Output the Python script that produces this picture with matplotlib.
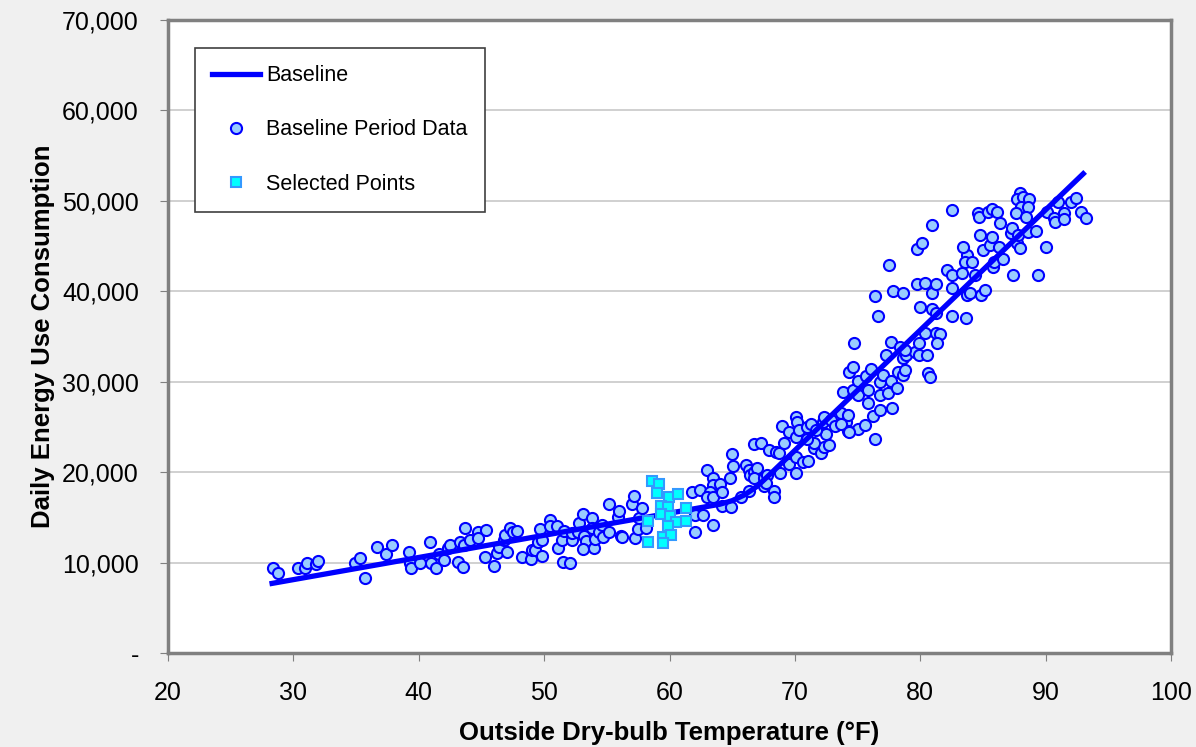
import numpy as np
import matplotlib
matplotlib.use("Agg")
import matplotlib.pyplot as plt
from matplotlib.ticker import FuncFormatter

plt.rcParams['font.family'] = ['Liberation Sans', 'DejaVu Sans']

# baseline period data (temperature F, daily energy use)
base_temp = [
	28.4, 28.75, 30.4, 30.9, 31.1, 31.8, 32.0, 34.9, 35.3, 35.7, 36.7, 37.4, 37.9, 39.2, 39.3, 39.4,
	40.1, 40.9, 41.0, 41.4, 41.6, 42.0, 42.35, 42.5, 43.15, 43.3, 43.55, 43.7,
	43.6, 44.1, 44.7, 44.7, 45.4, 45.3, 46.0, 46.2, 46.4, 46.8, 46.9, 47.0, 47.3, 47.5, 47.8, 48.2,
	48.95, 49.0, 49.3, 49.7, 49.5, 49.85, 49.8, 50.5, 50.5, 51.0, 51.1, 51.4, 51.6, 51.5, 52.1, 52.2,
	52.25, 52.7, 52.8, 53.1, 53.2, 53.3, 53.1, 53.8, 53.85, 54.0, 54.05, 54.4, 54.6, 54.7, 55.2, 55.2,
	55.9, 56.0, 56.1, 56.2, 57.0, 57.2, 57.25, 57.5, 57.6, 57.8, 58.1,
	63.0, 63.5, 63.5, 61.8, 62.4, 63.2, 63.0, 63.5, 62.0, 62.7, 63.5, 62.0,
	64.0, 64.15, 64.8, 65.0, 65.1, 64.2, 64.9, 65.7, 66.1, 66.3, 66.4, 66.7, 66.95, 66.7, 66.3, 66.7,
	67.3, 67.9, 67.5, 67.5, 67.8, 67.7, 68.3, 68.3, 68.5, 68.7, 69.1, 68.85, 69.5, 70.1, 70.1, 69.0,
	69.55, 70.1, 70.2, 70.1,
	76.4, 70.65, 71.05, 71.5, 72.1, 72.3, 72.7, 72.5, 71.5, 71.0, 70.3, 71.0, 71.3, 71.7, 72.25, 72.3,
	72.9, 73.2, 73.7, 74.1, 74.25, 74.2, 75.05, 75.6, 73.85, 74.65, 74.3, 74.65, 75.0, 75.05, 75.7, 75.8,
	75.85, 76.1, 76.2, 76.8, 76.8, 76.8, 77.05, 77.45, 77.7, 77.75, 78.15, 78.25, 78.6, 78.8, 77.3, 77.7,
	78.4, 78.6, 78.9, 79.6, 79.9, 80.5, 79.9, 80.4, 81.25, 81.6, 81.35, 80.6, 80.75, 74.7, 76.4, 76.6,
	77.5, 77.85, 78.6, 80.0, 80.9, 81.25, 79.7, 80.4, 80.9, 81.25, 82.55, 83.65, 82.55, 82.1, 82.5, 83.3,
	83.75, 84.0, 84.35, 84.85, 85.15, 83.75, 83.55, 84.1, 83.4, 85.8, 85.9, 86.6, 87.4, 89.4, 90.0, 85.0,
	85.55, 86.3, 87.75, 87.95, 79.75, 80.1, 78.8, 73.7, 74.3,
	82.55, 80.9, 84.6, 84.7, 85.4, 85.7, 86.1, 86.35, 84.75, 85.75, 87.25, 87.35, 87.8, 87.95, 87.75, 88.2,
	88.7, 88.0, 88.6, 87.6, 88.4, 88.6, 89.2, 90.1, 90.65, 90.75, 91.5, 91.5, 91.0, 92.0, 92.4, 92.85, 93.2,
]
base_kwh = [
	9370, 8810, 9370, 9370, 9920, 9840, 10210, 9990, 10540, 8330, 11690, 10950, 11980, 11140, 9920, 9440,
	9920, 12310, 9990, 9440, 10950, 10290, 11580, 11940, 10060, 12310, 9550, 13790,
	11940, 12500, 13420, 12680, 13600, 10650, 9620, 11090, 11760, 12500, 13050, 11200, 13790, 13420, 13530, 10580,
	10430, 11390, 11390, 13680, 12310, 12500, 10760, 14710, 14050, 14050, 11650, 12500, 13530, 10100, 9920, 12500,
	13310, 13420, 14410, 15340, 12940, 12420, 11500, 14900, 13790, 11580, 12570, 13420, 14160, 12800, 13420, 16480,
	15080, 15700, 12940, 12860, 16480, 17400, 12750, 13710, 14900, 16000, 13790,
	20240, 19320, 18580, 17840, 18030, 17840, 17290, 17290, 15260, 15260, 14160, 13420,
	18690, 17840, 19320, 22010, 20720, 16260, 16180, 17220, 20790, 20240, 19690, 20050, 20430, 19320, 17950, 23080,
	23260, 22450, 19320, 18470, 19690, 18840, 17950, 17290, 22260, 22090, 23190, 19940, 20900, 21650, 19880, 25100,
	24480, 26140, 25580, 23920,
	23640, 21160, 21270, 22710, 22090, 22820, 23000, 24220, 23260, 23640, 24660, 24960, 25330, 24660, 25580, 26140,
	25770, 25100, 26580, 25580, 26320, 24590, 24740, 25220, 28900, 29090, 31110, 31600, 30120, 28530, 30640, 29090,
	27620, 31380, 26250, 28530, 30010, 26880, 30750, 28720, 30080, 27060, 29340, 31110, 30750, 31300, 32960, 34430,
	33880, 32590, 32960, 33320, 32960, 32960, 34250, 35360, 35360, 35250, 34250, 30940, 30490, 34250, 39480, 37270,
	42910, 40070, 39780, 38230, 38040, 37640, 40780, 40960, 39780, 40780, 37270, 37010, 40330, 42360, 41810, 41990,
	39590, 39780, 41810, 39590, 40150, 44020, 43280, 43280, 44940, 42720, 43280, 43540, 41810, 41810, 44940, 44570,
	45120, 44940, 45310, 44760, 44650, 45310, 33510, 25330, 24480,
	49000, 47340, 48630, 48190, 48810, 49070, 48810, 47520, 46230, 45980, 46420, 46970, 46230, 50910, 50180, 50470,
	50180, 49290, 49360, 48630, 48260, 46600, 46670, 48740, 48080, 47700, 48630, 47970, 49920, 49920, 50290, 48810, 48080,
]

# selected points
sel_temp = [58.6, 59.2, 59.0, 59.95, 60.7, 59.3, 59.9, 61.35, 59.3, 60.0, 58.25, 60.55, 61.3, 59.9, 59.5, 60.1, 58.25, 59.5]
sel_kwh = [19020, 18690, 17660, 17220, 17620, 16260, 16180, 16000, 15370, 15150, 14630, 14450, 14560, 14050, 12860, 13020, 12240, 12200]

# baseline model line
line_temp = [28.3, 64.0, 65.0, 66.0, 67.0, 68.0, 93.0]
line_kwh = [7700, 16450, 16850, 17500, 18450, 19750, 53000]

fig = plt.figure(figsize=(11.96, 7.47), dpi=100)
fig.patch.set_facecolor('#f0f0f0')
ax = fig.add_axes([0.1405, 0.1258, 0.8386, 0.8474])
ax.set_facecolor('white')

ax.plot(base_temp, base_kwh, 'o', ms=8, mfc='#99ccff', mec='#0000ff', mew=1.5, ls='none', zorder=2, label='Baseline Period Data')
ax.plot(line_temp, line_kwh, color='#0000ff', lw=3.8, zorder=3, label='Baseline')
ax.plot(sel_temp, sel_kwh, 's', ms=7.5, mfc='#00ffff', mec='#3399ff', mew=1.5, ls='none', zorder=4, label='Selected Points')

ax.set_xlim(20, 100)
ax.set_ylim(0, 70000)
ax.set_xticks(np.arange(20, 101, 10))
ax.set_yticks(np.arange(0, 70001, 10000))
ax.yaxis.set_major_formatter(FuncFormatter(lambda v, p: '-' if v == 0 else '{:,.0f}'.format(v)))
ax.yaxis.grid(True, color='#c8c8c8', lw=1.2)
ax.set_axisbelow(True)

for s in ax.spines.values():
	s.set_color('#808080')
	s.set_linewidth(2.5)
ax.tick_params(direction='out', length=6, width=0.8, color='#808080', labelsize=18)
ax.tick_params(axis='x', pad=14)
ax.tick_params(axis='y', pad=15)

ax.set_xlabel('Outside Dry-bulb Temperature (°F)', fontsize=18.5, fontweight='bold', labelpad=12)
ax.set_ylabel('Daily Energy Use Consumption', fontsize=18.5, fontweight='bold', labelpad=5)

h, l = ax.get_legend_handles_labels()
order = [1, 0, 2]
leg = ax.legend([h[i] for i in order], [l[i] for i in order], loc='upper left',
	bbox_to_anchor=(0.027, 0.956), borderaxespad=0, fontsize=15.5, fancybox=False,
	framealpha=1, edgecolor='#404040', borderpad=0.8, labelspacing=1.55,
	handlelength=2.2, handletextpad=0.3)
leg.get_frame().set_linewidth(1.2)

fig.savefig('out.png', dpi=100, facecolor=fig.get_facecolor())
